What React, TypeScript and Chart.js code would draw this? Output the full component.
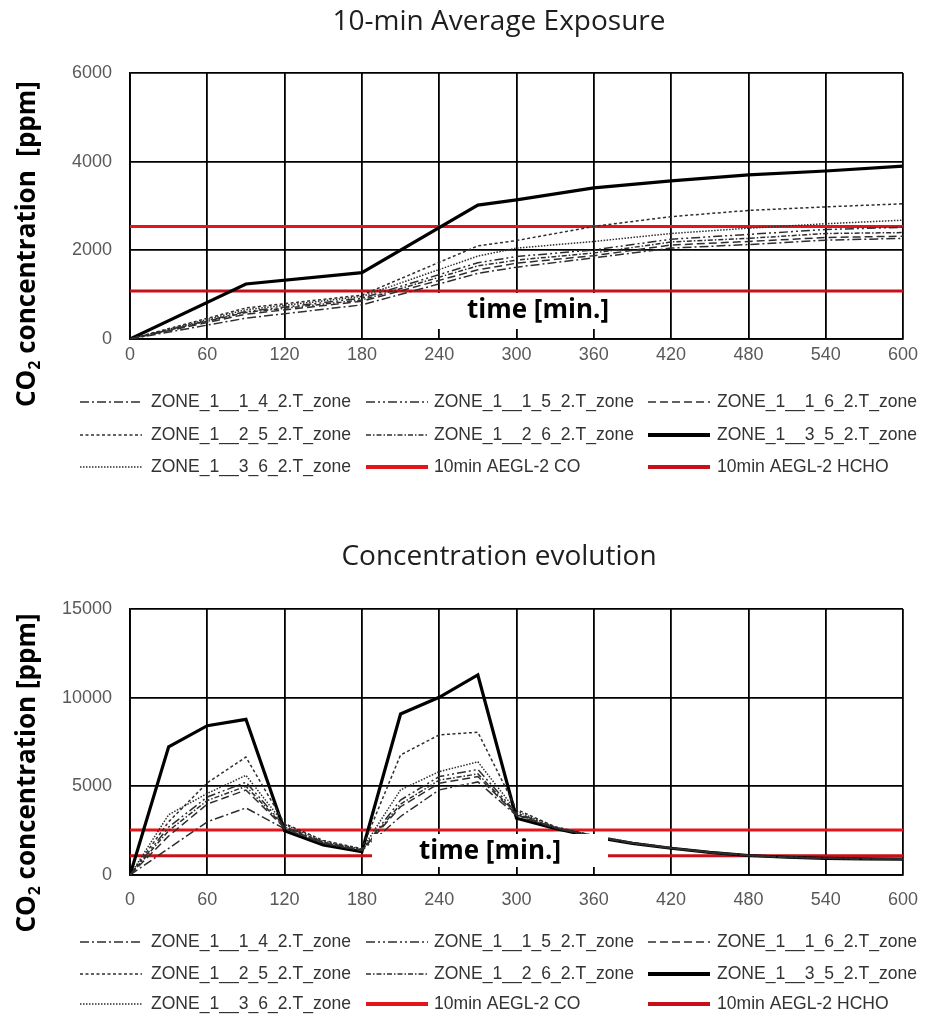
import React, { useEffect, useRef } from "react";
import { Chart, registerables } from "chart.js";

Chart.register(...registerables);

// ---- series labels ----
const zoneNames = [
  "ZONE_1__1_4_2.T_zone",
  "ZONE_1__1_5_2.T_zone",
  "ZONE_1__1_6_2.T_zone",
  "ZONE_1__2_5_2.T_zone",
  "ZONE_1__2_6_2.T_zone",
  "ZONE_1__3_5_2.T_zone",
  "ZONE_1__3_6_2.T_zone",
];
const limitNames = ["10min AEGL-2 CO", "10min AEGL-2 HCHO"];

// ---- threshold levels [ppm] ----
const aeglCO = 2540;
const aeglHCHO = 1080;

// ---- axis ticks ----
const timeTicks = [0, 60, 120, 180, 240, 300, 360, 420, 480, 540, 600];
const avgTicks = [0, 2000, 4000, 6000];
const concTicks = [0, 5000, 10000, 15000];

// ---- 10-min average exposure [ppm] ----
const avgTimes = [0, 90, 180, 270, 300, 360, 420, 480, 540, 600];
const avg114 = [0, 470, 770, 1480, 1620, 1830, 2050, 2130, 2230, 2270];
const avg115 = [0, 620, 920, 1720, 1860, 2010, 2250, 2360, 2470, 2520];
const avg116 = [0, 560, 850, 1560, 1710, 1880, 2120, 2200, 2290, 2320];
const avg125 = [0, 700, 990, 2100, 2220, 2540, 2760, 2900, 2980, 3050];
const avg126 = [0, 600, 880, 1650, 1780, 1940, 2190, 2270, 2380, 2400];
const avg135 = [0, 1240, 1496, 3020, 3140, 3410, 3565, 3700, 3790, 3900];
const avg136 = [0, 660, 960, 1870, 2050, 2200, 2380, 2500, 2600, 2680];

// ---- concentration evolution [ppm] ----
const concTimes = [0, 30, 60, 90, 120, 150, 180, 210, 240, 270, 300, 330, 360, 390, 420, 450, 480, 510, 540, 570, 600];
const conc114 = [0, 1500, 3000, 3780, 2600, 1780, 1380, 3300, 4800, 5250, 3350, 2640, 2170, 1790, 1505, 1270, 1095, 995, 940, 908, 896];
const conc115 = [0, 2700, 4400, 5230, 2750, 1850, 1420, 4230, 5550, 5950, 3500, 2680, 2200, 1810, 1520, 1285, 1105, 1005, 950, 915, 900];
const conc116 = [0, 2200, 4000, 4790, 2650, 1800, 1390, 3850, 5170, 5550, 3400, 2650, 2180, 1795, 1510, 1275, 1100, 1000, 942, 910, 898];
const conc125 = [0, 3000, 5200, 6650, 2900, 1950, 1480, 6770, 7900, 8050, 3700, 2720, 2230, 1830, 1540, 1300, 1120, 1020, 960, 925, 910];
const conc126 = [0, 2500, 4200, 5000, 2700, 1820, 1400, 4000, 5350, 5700, 3450, 2660, 2190, 1800, 1515, 1280, 1100, 1000, 945, 912, 900];
const conc135 = [0, 7230, 8420, 8780, 2500, 1690, 1320, 9080, 10020, 11280, 3200, 2620, 2150, 1780, 1510, 1280, 1100, 1000, 940, 910, 900];
const conc136 = [0, 3400, 4600, 5620, 2850, 1900, 1450, 4800, 5830, 6380, 3600, 2700, 2210, 1820, 1530, 1290, 1110, 1010, 955, 920, 905];

// line styles per zone (same order as zoneNames)
const zoneStyles = [
  { dash: [9, 3, 2, 3], width: 1.5, color: "#2e2e2e", legendWidth: 1.5 },
  { dash: [9, 3, 2, 3, 2, 3], width: 1.5, color: "#2e2e2e", legendWidth: 1.5 },
  { dash: [8, 4], width: 1.5, color: "#2e2e2e", legendWidth: 1.5 },
  { dash: [3, 2.5], width: 1.5, color: "#2e2e2e", legendWidth: 1.5 },
  { dash: [5, 2, 1.5, 2], width: 1.5, color: "#2e2e2e", legendWidth: 1.5 },
  { dash: [], width: 3.2, color: "#000000", legendWidth: 4 },
  { dash: [1.5, 1.5], width: 1.5, color: "#2e2e2e", legendWidth: 1.5 },
];
const limitStyles = [
  { color: "#e3141c", width: 3, legendWidth: 4 },
  { color: "#c8101a", width: 3, legendWidth: 4 },
];

const tickFont = { family: "'Liberation Sans', Arial, sans-serif", size: 18 };
const tickColor = "#595959";

// chart heading drawn centred over the page width
const headingPlugin = {
  id: "heading",
  afterDraw(chart: any, _args: any, opts: any) {
    const ctx = chart.ctx as CanvasRenderingContext2D;
    ctx.save();
    ctx.font = "28px 'Open Sans', sans-serif";
    ctx.fillStyle = "#1e1e1e";
    ctx.textAlign = "center";
    ctx.textBaseline = "middle";
    ctx.fillText(opts.text, opts.cx, opts.cy);
    ctx.restore();
  },
};

// legend laid out as a 3-column grid under the plot
const gridLegendPlugin = {
  id: "gridLegend",
  afterDraw(chart: any, _args: any, opts: any) {
    const ctx = chart.ctx as CanvasRenderingContext2D;
    ctx.save();
    ctx.font = opts.font;
    const ref = ctx.measureText(zoneNames[0]).width;
    const squeeze = opts.refWidth / ref;
    chart.data.datasets.forEach((ds: any, i: number) => {
      const col = i % 3;
      const row = Math.floor(i / 3);
      const y = opts.rows[row];
      const x0 = opts.sampleX[col];
      ctx.strokeStyle = ds.borderColor;
      ctx.lineWidth = ds.legendWidth ?? ds.borderWidth;
      ctx.setLineDash(ds.borderDash || []);
      ctx.beginPath();
      ctx.moveTo(x0, y);
      ctx.lineTo(x0 + opts.sampleLen, y);
      ctx.stroke();
      ctx.setLineDash([]);
      ctx.fillStyle = "#333333";
      ctx.textBaseline = "middle";
      ctx.textAlign = "left";
      const w = ctx.measureText(ds.label).width;
      ctx.fillText(ds.label, opts.textX[col], y, w * squeeze);
    });
    ctx.restore();
  },
};

// x-axis caption placed on a white box inside the plot
const timeBoxPlugin = {
  id: "timeBox",
  afterDatasetsDraw(chart: any, _args: any, opts: any) {
    const ctx = chart.ctx as CanvasRenderingContext2D;
    ctx.save();
    ctx.fillStyle = "#ffffff";
    ctx.fillRect(opts.x1, opts.y1, opts.x2 - opts.x1, opts.y2 - opts.y1);
    ctx.fillStyle = "#000000";
    ctx.font = "bold 26px 'Open Sans', sans-serif";
    ctx.textAlign = "center";
    ctx.textBaseline = "middle";
    ctx.fillText(opts.text, opts.tx, opts.ty);
    ctx.restore();
  },
};

// rotated y-axis caption with subscript
const yTitlePlugin = {
  id: "yTitle",
  afterDraw(chart: any, _args: any, opts: any) {
    const ctx = chart.ctx as CanvasRenderingContext2D;
    const big = `bold ${opts.size}px 'Open Sans', sans-serif`;
    const small = `bold ${Math.round(opts.size * 0.62)}px 'Open Sans', sans-serif`;
    const parts = [
      { t: "CO", f: big, dy: 0 },
      { t: "2", f: small, dy: opts.size * 0.3 },
      { t: opts.rest, f: big, dy: 0 },
    ];
    ctx.save();
    ctx.translate(opts.x, opts.cy);
    ctx.rotate(-Math.PI / 2);
    ctx.fillStyle = "#000000";
    ctx.textBaseline = "middle";
    ctx.textAlign = "left";
    let total = 0;
    const widths = parts.map((p) => {
      ctx.font = p.f;
      const w = ctx.measureText(p.t).width;
      total += w;
      return w;
    });
    let cx = -total / 2;
    parts.forEach((p, i) => {
      ctx.font = p.f;
      ctx.fillText(p.t, cx, p.dy);
      cx += widths[i];
    });
    ctx.restore();
  },
};

type PanelProps = {
  top: number;
  height: number;
  title: string;
  titleY: number;
  plotTop: number;
  times: number[];
  zones: number[][];
  yTicks: number[];
  plotBottom: number;
  xTickGap: number;
  legendRows: number[];
  box: { x1: number; x2: number; y1: number; y2: number; tx: number; ty: number };
  yTitle: { cy: number; rest: string };
};

function Panel(p: PanelProps) {
  const ref = useRef<HTMLCanvasElement>(null);
  useEffect(() => {
    const t0 = p.times[0];
    const t1 = p.times[p.times.length - 1];
    const zoneSets = p.zones.map((vals, i) => ({
      label: zoneNames[i],
      data: p.times.map((t, k) => ({ x: t, y: vals[k] })),
      borderColor: zoneStyles[i].color,
      borderWidth: zoneStyles[i].width,
      borderDash: zoneStyles[i].dash,
      legendWidth: zoneStyles[i].legendWidth,
      pointRadius: 0,
      fill: false,
      tension: 0,
    }));
    const limitSets = [aeglCO, aeglHCHO].map((lvl, i) => ({
      label: limitNames[i],
      data: [
        { x: t0, y: lvl },
        { x: t1, y: lvl },
      ],
      borderColor: limitStyles[i].color,
      borderWidth: limitStyles[i].width,
      borderDash: [],
      legendWidth: limitStyles[i].legendWidth,
      pointRadius: 0,
      fill: false,
    }));
    const yMax = p.yTicks[p.yTicks.length - 1];
    const yStep = p.yTicks[1] - p.yTicks[0];
    const xHeight = p.height - p.plotBottom;
    const chart = new Chart(ref.current as HTMLCanvasElement, {
      type: "line",
      data: { datasets: [...zoneSets, ...limitSets] as any },
      plugins: [headingPlugin, gridLegendPlugin, timeBoxPlugin, yTitlePlugin],
      options: {
        animation: false,
        responsive: false,
        devicePixelRatio: 1,
        layout: { padding: { left: 0, right: 23, top: p.plotTop, bottom: 0 } },
        plugins: {
          legend: { display: false },
          tooltip: { enabled: false },
          title: { display: false },
          heading: { text: p.title, cx: 499, cy: p.titleY },
          gridLegend: {
            rows: p.legendRows,
            sampleX: [80, 366, 648],
            sampleLen: 62,
            textX: [151, 434, 717],
            font: "19px 'Liberation Sans Narrow', 'Liberation Sans', sans-serif",
            refWidth: 200,
          },
          timeBox: { ...p.box, text: "time [min.]" },
          yTitle: { x: 28, size: 26, cy: p.yTitle.cy, rest: p.yTitle.rest },
        } as any,
        scales: {
          x: {
            type: "linear",
            min: t0,
            max: t1,
            afterFit: (s: any) => {
              s.height = xHeight;
            },
            afterBuildTicks: (s: any) => {
              s.ticks = timeTicks.map((v) => ({ value: v }));
            },
            ticks: { padding: 5, font: tickFont, color: tickColor, maxRotation: 0, callback: (v: any) => String(v) },
            grid: {
              color: "#000000",
              lineWidth: 1.8,
              drawTicks: true,
              tickLength: p.xTickGap,
              tickColor: "rgba(0,0,0,0)",
            },
            border: { color: "#000000", width: 1.8 },
          },
          y: {
            min: 0,
            max: yMax,
            afterFit: (s: any) => {
              s.width = 130;
            },
            ticks: { stepSize: yStep, padding: 18, font: tickFont, color: tickColor, callback: (v: any) => String(v) },
            grid: { color: "#000000", lineWidth: 1.8, drawTicks: false },
            border: { color: "#000000", width: 1.8 },
          },
        },
      },
    } as any);
    return () => chart.destroy();
  }, []);
  return (
    <canvas
      ref={ref}
      width={926}
      height={p.height}
      style={{ display: "block", position: "absolute", left: 0, top: p.top, width: 926, height: p.height }}
    />
  );
}

export default function App() {
  return (
    <div style={{ position: "absolute", left: 0, top: 0, width: 926, height: 1015, background: "#fff", overflow: "hidden" }}>
      <Panel
        top={0}
        height={505}
        title="10-min Average Exposure"
        titleY={22}
        plotTop={73}
        times={avgTimes}
        zones={[avg114, avg115, avg116, avg125, avg126, avg135, avg136]}
        yTicks={avgTicks}
        plotBottom={339}
        xTickGap={0.01}
        legendRows={[402, 435, 467]}
        box={{ x1: 420, x2: 656, y1: 293, y2: 329, tx: 538, ty: 311 }}
        yTitle={{ cy: 244, rest: " concentration  [ppm]" }}
      />
      <Panel
        top={520}
        height={495}
        title="Concentration evolution"
        titleY={37}
        plotTop={89}
        times={concTimes}
        zones={[conc114, conc115, conc116, conc125, conc126, conc135, conc136]}
        yTicks={concTicks}
        plotBottom={355}
        xTickGap={9}
        legendRows={[422, 454, 484]}
        box={{ x1: 372, x2: 608, y1: 314, y2: 347, tx: 490, ty: 332 }}
        yTitle={{ cy: 253, rest: " concentration [ppm]" }}
      />
    </div>
  );
}
